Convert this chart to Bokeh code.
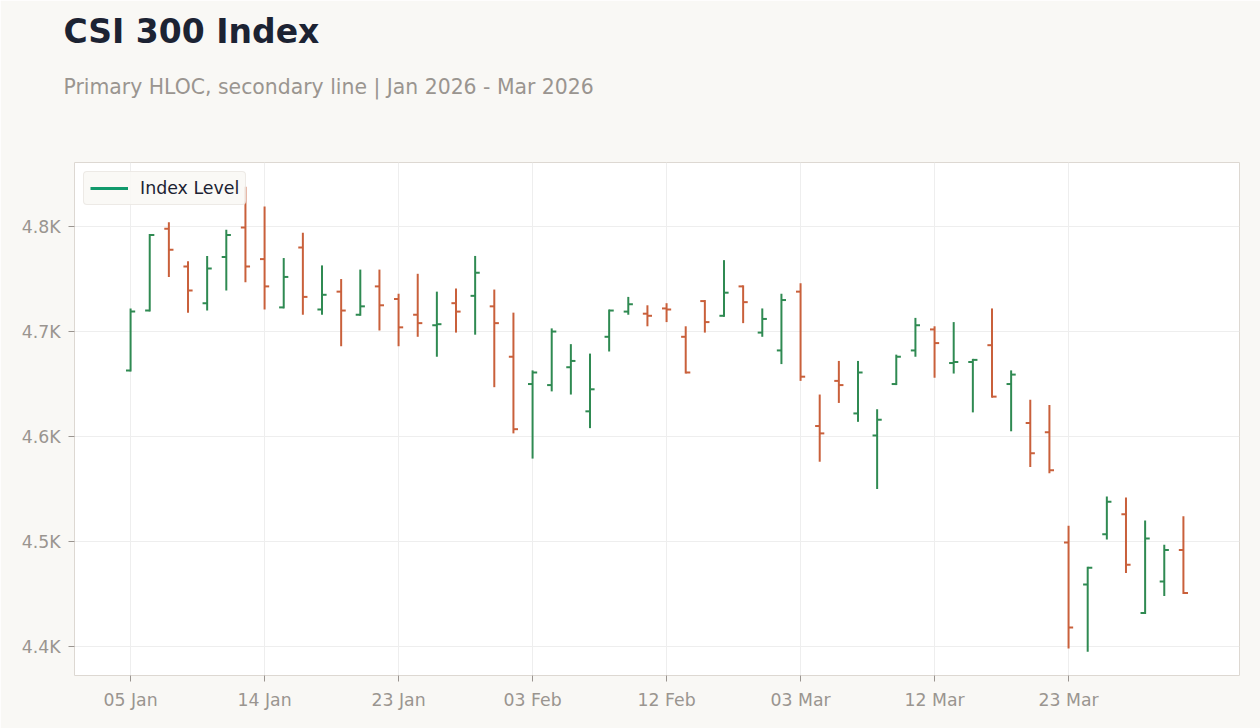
from bokeh.plotting import figure
from bokeh.models import ColumnDataSource, FixedTicker, Title, Legend, LegendItem, Range1d
from bokeh.embed import file_html
from bokeh.resources import INLINE
import datetime

dates = ["2026-01-05", "2026-01-06", "2026-01-07", "2026-01-08", "2026-01-09",
         "2026-01-12", "2026-01-13", "2026-01-14", "2026-01-15", "2026-01-16",
         "2026-01-19", "2026-01-20", "2026-01-21", "2026-01-22", "2026-01-23",
         "2026-01-26", "2026-01-27", "2026-01-28", "2026-01-29", "2026-01-30",
         "2026-02-02", "2026-02-03", "2026-02-04", "2026-02-05", "2026-02-06",
         "2026-02-09", "2026-02-10", "2026-02-11", "2026-02-12", "2026-02-13",
         "2026-02-24", "2026-02-25", "2026-02-26", "2026-02-27", "2026-03-02",
         "2026-03-03", "2026-03-04", "2026-03-05", "2026-03-06", "2026-03-09",
         "2026-03-10", "2026-03-11", "2026-03-12", "2026-03-13", "2026-03-16",
         "2026-03-17", "2026-03-18", "2026-03-19", "2026-03-20", "2026-03-23",
         "2026-03-24", "2026-03-25", "2026-03-26", "2026-03-27", "2026-03-30",
         "2026-03-31"]

open_ = [4663, 4720, 4798, 4762, 4727, 4771, 4799, 4769, 4723, 4780,
         4721, 4738, 4716, 4743, 4731, 4716, 4706, 4727, 4734, 4724,
         4676, 4650, 4649, 4666, 4624, 4695, 4719, 4717, 4722, 4695,
         4729, 4715, 4743, 4699, 4682, 4738, 4610, 4653, 4622, 4601,
         4650, 4682, 4702, 4670, 4671, 4687, 4650, 4613, 4604, 4499,
         4459, 4507, 4526, 4432, 4462, 4492]
high = [4722, 4793, 4804, 4767, 4772, 4797, 4838, 4819, 4770, 4794,
        4763, 4750, 4759, 4759, 4736, 4755, 4738, 4741, 4772, 4740,
        4718, 4663, 4703, 4688, 4679, 4721, 4733, 4725, 4727, 4705,
        4730, 4768, 4744, 4722, 4736, 4746, 4640, 4672, 4672, 4626,
        4678, 4713, 4705, 4709, 4674, 4722, 4663, 4635, 4630, 4515,
        4476, 4543, 4542, 4520, 4497, 4524]
low = [4662, 4719, 4752, 4718, 4720, 4739, 4747, 4721, 4722, 4716,
       4716, 4686, 4715, 4701, 4686, 4695, 4676, 4699, 4697, 4647,
       4603, 4579, 4643, 4640, 4608, 4681, 4716, 4705, 4709, 4660,
       4699, 4714, 4708, 4695, 4669, 4653, 4576, 4632, 4614, 4550,
       4649, 4676, 4656, 4660, 4623, 4637, 4605, 4571, 4565, 4398,
       4395, 4502, 4470, 4431, 4448, 4450]
close = [4719, 4792, 4778, 4739, 4760, 4792, 4762, 4743, 4752, 4733,
         4735, 4720, 4724, 4725, 4704, 4708, 4707, 4719, 4756, 4708,
         4607, 4661, 4700, 4672, 4645, 4720, 4726, 4715, 4721, 4661,
         4709, 4737, 4728, 4712, 4730, 4657, 4603, 4649, 4661, 4616,
         4676, 4706, 4689, 4671, 4673, 4638, 4659, 4584, 4568, 4418,
         4475, 4538, 4478, 4503, 4492, 4451]

y_ticks = [4400, 4500, 4600, 4700, 4800]
x_tick_every = 7

UP = "#2f8a52"
DOWN = "#c9603b"
BG = "#f9f8f5"
TW = 0.24

n = len(dates)
xs = list(range(n))
colors = [UP if c >= o else DOWN for o, c in zip(open_, close)]
src = ColumnDataSource(dict(
    x=xs, xl=[x - TW for x in xs], xr=[x + TW for x in xs],
    o=open_, h=high, l=low, c=close, color=colors))

p = figure(width=1260, height=728, output_backend="svg", toolbar_location=None,
           title=None, x_range=Range1d(-2.93, 57.93), y_range=Range1d(4372.4, 4861),
           min_border_left=74, min_border_right=21, min_border_bottom=53, min_border_top=0)

p.background_fill_color = "#ffffff"
p.border_fill_color = BG
p.outline_line_color = "#ddd8d2"
p.outline_line_width = 1

p.segment(x0="x", y0="l", x1="x", y1="h", color="color", line_width=2, source=src)
p.segment(x0="xl", y0="o", x1="x", y1="o", color="color", line_width=2, source=src)
p.segment(x0="x", y0="c", x1="xr", y1="c", color="color", line_width=2, source=src)

line_r = p.line(x=xs, y=close, line_color="#119a6c", line_width=3, visible=False)
legend = Legend(items=[LegendItem(label="Index Level", renderers=[line_r])],
                location="top_left", background_fill_color=BG, background_fill_alpha=0.85,
                border_line_color="#e0dbd5", border_line_width=1, border_radius=4,
                label_text_font="DejaVu Sans", label_text_font_size="17.4px",
                label_text_color="#1c2333", glyph_width=38, spacing=0,
                margin=9, padding=6, label_standoff=12)
p.add_layout(legend)

tick_idx = list(range(0, n, x_tick_every))
labels = {}
for i in tick_idx:
    d = datetime.date.fromisoformat(dates[i])
    labels[i] = d.strftime("%d %b")
p.xaxis.ticker = FixedTicker(ticks=tick_idx)
p.xaxis.major_label_overrides = labels
p.yaxis.ticker = FixedTicker(ticks=y_ticks)
p.yaxis.major_label_overrides = {t: f"{t/1000:.1f}K" for t in y_ticks}

for ax in (p.xaxis, p.yaxis):
    ax.axis_line_color = None
    ax.major_tick_line_color = "#9a9590"
    ax.major_tick_out = 6
    ax.major_tick_in = 0
    ax.minor_tick_line_color = None
    ax.major_label_text_font = "DejaVu Sans"
    ax.major_label_text_font_size = "17.3px"
    ax.major_label_text_color = "#9a9590"
    ax.major_label_standoff = 8

p.xgrid.ticker = FixedTicker(ticks=tick_idx)
p.ygrid.ticker = FixedTicker(ticks=y_ticks)
p.grid.grid_line_color = "#eeeeee"
p.grid.grid_line_width = 1

spacer = Title(text=" ", align="left", text_font="DejaVu Sans", text_font_size="1px",
               text_color=BG, standoff=48)
p.add_layout(spacer, "above")
sub = Title(text="Primary HLOC, secondary line | Jan 2026 - Mar 2026", align="left",
            text_font="DejaVu Sans", text_font_size="20.4px", text_font_style="normal",
            text_color="#9a9590", offset=-11, standoff=26)
p.add_layout(sub, "above")
ttl = Title(text="CSI 300 Index", align="left", text_font="DejaVu Sans",
            text_font_size="33px", text_font_style="bold", text_color="#1c2333",
            offset=-11, standoff=18)
p.add_layout(ttl, "above")

open("out.html", "w").write(file_html(p, INLINE))
